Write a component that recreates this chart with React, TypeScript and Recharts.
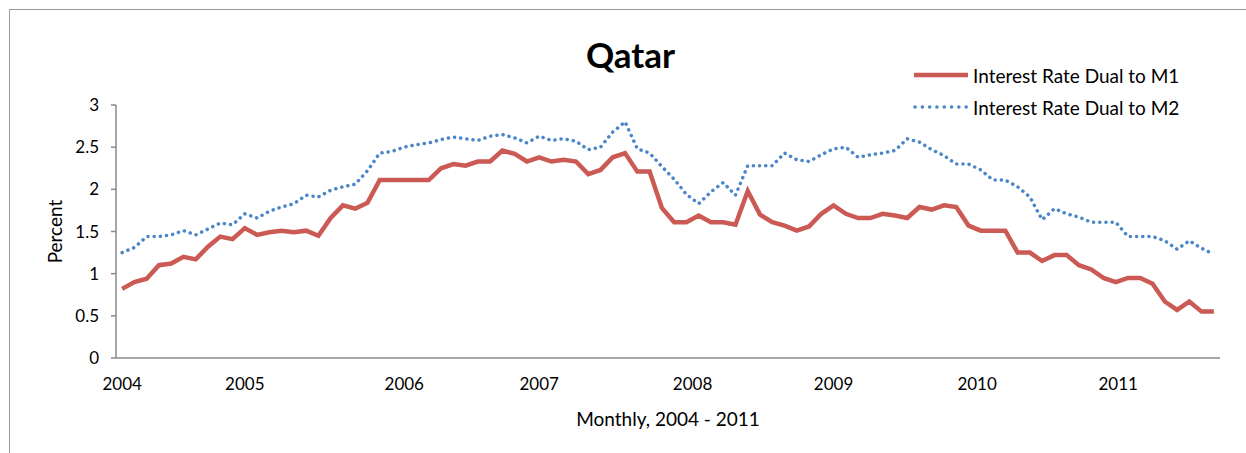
import React from "react";
import { LineChart, Line, XAxis, YAxis } from "recharts";

const dualM1 = [
  0.82, 0.9, 0.94, 1.1, 1.12, 1.2, 1.17, 1.32, 1.44, 1.41,
  1.54, 1.46, 1.49, 1.51, 1.49, 1.51, 1.45, 1.66, 1.81, 1.77,
  1.84, 2.11, 2.11, 2.11, 2.11, 2.11, 2.25, 2.3, 2.28, 2.33,
  2.33, 2.46, 2.42, 2.33, 2.38, 2.33, 2.35, 2.33, 2.18, 2.23,
  2.38, 2.43, 2.21, 2.21, 1.78, 1.61, 1.61, 1.69, 1.61, 1.61,
  1.58, 1.98, 1.7, 1.61, 1.57, 1.51, 1.56, 1.71, 1.81, 1.71,
  1.66, 1.66, 1.71, 1.69, 1.66, 1.79, 1.76, 1.81, 1.79, 1.57,
  1.51, 1.51, 1.51, 1.25, 1.25, 1.15, 1.22, 1.22, 1.1, 1.05,
  0.95, 0.9, 0.95, 0.95, 0.88, 0.67, 0.57, 0.67, 0.55, 0.55,
];

const dualM2 = [
  1.25, 1.31, 1.44, 1.44, 1.46, 1.51, 1.46, 1.53, 1.6, 1.58,
  1.71, 1.66, 1.74, 1.79, 1.83, 1.93, 1.91, 1.99, 2.03, 2.06,
  2.22, 2.43, 2.45, 2.5, 2.53, 2.55, 2.59, 2.62, 2.6, 2.58,
  2.63, 2.65, 2.61, 2.55, 2.63, 2.58, 2.6, 2.57, 2.47, 2.5,
  2.68, 2.8, 2.48, 2.43, 2.27, 2.12, 1.94, 1.83, 1.97, 2.08,
  1.93, 2.28, 2.28, 2.28, 2.43, 2.35, 2.33, 2.41, 2.48, 2.5,
  2.38, 2.41, 2.43, 2.46, 2.6, 2.56, 2.47, 2.4, 2.3, 2.3,
  2.23, 2.11, 2.11, 2.03, 1.91, 1.64, 1.77, 1.71, 1.67, 1.61,
  1.61, 1.61, 1.44, 1.44, 1.44, 1.39, 1.29, 1.39, 1.3, 1.23,
];

const yearLabels = ["2004", "2005", "2006", "2007", "2008", "2009", "2010", "2011"];
const yearTickAt = [0, 10, 23, 34, 46.5, 58, 69.7, 81.2];
const percentTicks = [0, 0.5, 1, 1.5, 2, 2.5, 3];

const data = dualM1.map((v, i) => ({ idx: i, m1: v, m2: dualM2[i] }));

const FONT = "Lato, 'Open Sans', sans-serif";
const RED = "#CB5A55";
const BLUE = "#4A86C8";
const AXIS = "#8a8a8a";

export default function App() {
  return (
    <div
      style={{
        position: "absolute",
        left: 0,
        top: 0,
        width: 1246,
        height: 453,
        background: "#fff",
        overflow: "hidden",
        fontFamily: FONT,
      }}
    >
      {/* chart area frame, cut off by the screenshot on right/bottom */}
      <div
        style={{
          position: "absolute",
          left: 9,
          top: 9,
          width: 1300,
          height: 500,
          borderTop: "1px solid #9a9a9a",
          borderLeft: "1px solid #9a9a9a",
        }}
      />
      <div
        style={{
          position: "absolute",
          left: 0,
          width: 1261,
          top: 33,
          textAlign: "center",
          fontSize: 35,
          fontWeight: 700,
          color: "#000",
        }}
      >
        Qatar
      </div>

      <LineChart
        width={1246}
        height={453}
        data={data}
        margin={{ top: 105, right: 26, left: 56, bottom: 65 }}
        style={{ position: "absolute", left: 0, top: 0 }}
      >
        <XAxis
          dataKey="idx"
          type="number"
          domain={[-0.5, 89.5]}
          ticks={yearTickAt}
          tickFormatter={(v: number) => yearLabels[yearTickAt.indexOf(v)] ?? ""}
          interval={0}
          height={30}
          tickLine={false}
          tickSize={6}
          tickMargin={14}
          axisLine={{ stroke: AXIS, strokeWidth: 1.5 }}
          tick={{ fill: "#000", fontSize: 17, fontFamily: FONT }}
          label={{
            value: "Monthly, 2004 - 2011",
            position: "bottom",
            offset: 25,
            style: { fill: "#000", fontSize: 19, fontFamily: FONT },
          }}
        />
        <YAxis
          type="number"
          domain={[0, 3]}
          ticks={percentTicks}
          width={60}
          tickSize={5}
          tickMargin={12}
          interval={0}
          axisLine={{ stroke: AXIS, strokeWidth: 1.5 }}
          tickLine={{ stroke: AXIS, strokeWidth: 1.5 }}
          tick={{ fill: "#000", fontSize: 17, fontFamily: FONT }}
          label={{
            content: (props: any) => {
              const vb = props.viewBox || { x: 56, y: 105, width: 60, height: 253 };
              const cx = 62;
              const cy = vb.y + vb.height / 2;
              return (
                <text
                  x={cx}
                  y={cy}
                  transform={`rotate(-90 ${cx} ${cy})`}
                  textAnchor="middle"
                  style={{ fill: "#000", fontSize: 19, fontFamily: FONT }}
                >
                  Percent
                </text>
              );
            },
          }}
        />
        <Line
          type="linear"
          dataKey="m1"
          stroke={RED}
          strokeWidth={4.5}
          dot={false}
          isAnimationActive={false}
        />
        <Line
          type="linear"
          dataKey="m2"
          stroke={BLUE}
          strokeWidth={3.5}
          strokeDasharray="0.1 6.1"
          strokeLinecap="round"
          dot={false}
          isAnimationActive={false}
        />
      </LineChart>

      {/* legend */}
      <div style={{ position: "absolute", left: 913, top: 63, fontSize: 19, color: "#000" }}>
        <div style={{ display: "flex", alignItems: "center", height: 24 }}>
          <svg width={56} height={10} style={{ marginRight: 4 }}>
            <line x1={1} y1={5} x2={55} y2={5} stroke={RED} strokeWidth={4.5} />
          </svg>
          <span>Interest Rate Dual to M1</span>
        </div>
        <div style={{ display: "flex", alignItems: "center", height: 24, marginTop: 8 }}>
          <svg width={56} height={10} style={{ marginRight: 4 }}>
            <line
              x1={2}
              y1={5}
              x2={54}
              y2={5}
              stroke={BLUE}
              strokeWidth={3.5}
              strokeDasharray="0.1 7.2"
              strokeLinecap="round"
            />
          </svg>
          <span>Interest Rate Dual to M2</span>
        </div>
      </div>
    </div>
  );
}
